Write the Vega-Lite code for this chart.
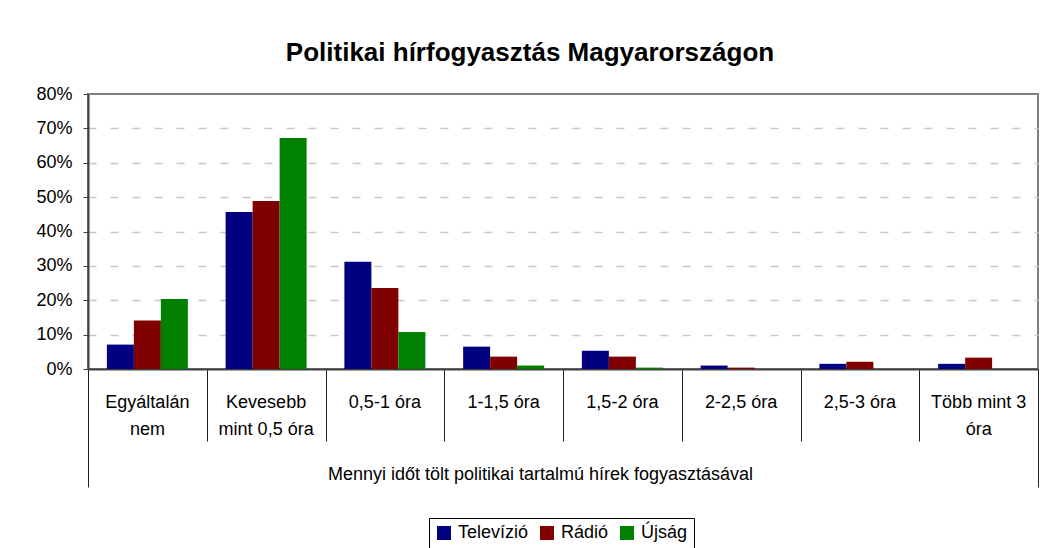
{
  "$schema": "https://vega.github.io/schema/vega-lite/v6.json",
  "width": 950,
  "height": 275,
  "autosize": "none",
  "padding": {"left": 88, "top": 94, "right": 11, "bottom": 179},
  "background": "white",
  "title": {
    "text": "Politikai hírfogyasztás Magyarországon",
    "font": "Liberation Sans",
    "fontSize": 26,
    "fontWeight": "bold",
    "color": "black",
    "anchor": "middle",
    "frame": "group",
    "baseline": "alphabetic",
    "offset": 35,
    "dx": -33,
    "dy": 37
  },
  "data": {
    "values": [
      {"cat": "Egyáltalán nem", "medium": "Televízió", "value": 0.071},
      {"cat": "Egyáltalán nem", "medium": "Rádió", "value": 0.141},
      {"cat": "Egyáltalán nem", "medium": "Újság", "value": 0.204},
      {"cat": "Kevesebb mint 0,5 óra", "medium": "Televízió", "value": 0.457},
      {"cat": "Kevesebb mint 0,5 óra", "medium": "Rádió", "value": 0.489},
      {"cat": "Kevesebb mint 0,5 óra", "medium": "Újság", "value": 0.672},
      {"cat": "0,5-1 óra", "medium": "Televízió", "value": 0.312},
      {"cat": "0,5-1 óra", "medium": "Rádió", "value": 0.236},
      {"cat": "0,5-1 óra", "medium": "Újság", "value": 0.108},
      {"cat": "1-1,5 óra", "medium": "Televízió", "value": 0.065},
      {"cat": "1-1,5 óra", "medium": "Rádió", "value": 0.036},
      {"cat": "1-1,5 óra", "medium": "Újság", "value": 0.010},
      {"cat": "1,5-2 óra", "medium": "Televízió", "value": 0.053},
      {"cat": "1,5-2 óra", "medium": "Rádió", "value": 0.036},
      {"cat": "1,5-2 óra", "medium": "Újság", "value": 0.004},
      {"cat": "2-2,5 óra", "medium": "Televízió", "value": 0.010},
      {"cat": "2-2,5 óra", "medium": "Rádió", "value": 0.004},
      {"cat": "2-2,5 óra", "medium": "Újság", "value": 0.0},
      {"cat": "2,5-3 óra", "medium": "Televízió", "value": 0.015},
      {"cat": "2,5-3 óra", "medium": "Rádió", "value": 0.021},
      {"cat": "2,5-3 óra", "medium": "Újság", "value": 0.0},
      {"cat": "Több mint 3 óra", "medium": "Televízió", "value": 0.015},
      {"cat": "Több mint 3 óra", "medium": "Rádió", "value": 0.033},
      {"cat": "Több mint 3 óra", "medium": "Újság", "value": 0.0}
    ]
  },
  "layer": [
    {
      "mark": {"type": "bar", "opacity": 0},
      "encoding": {
        "x": {
          "field": "cat",
          "type": "nominal",
          "sort": null,
          "axis": {
            "orient": "bottom",
            "title": null,
            "labels": false,
            "domain": false,
            "grid": false,
            "tickBand": "extent",
            "tickSize": {"condition": {"test": "datum.value === 'Több mint 3 óra' || datum.extra || !isValid(datum.value)", "value": 118}, "value": 72},
            "tickColor": "#202020",
            "tickWidth": 1
          }
        }
      }
    },
    {
      "mark": {"type": "bar"},
      "encoding": {
        "x": {
          "field": "cat",
          "type": "nominal",
          "sort": null,
          "scale": {"paddingInner": 0, "paddingOuter": 0},
          "axis": {
            "orient": "bottom",
            "title": "Mennyi időt tölt politikai tartalmú hírek fogyasztásával",
            "titleFont": "Liberation Sans",
            "titleFontSize": 18,
            "titleFontWeight": "normal",
            "titleColor": "black",
            "titleX": 452,
            "titleY": 110,
            "titleAlign": "center",
            "titleBaseline": "alphabetic",
            "labelAngle": 0,
            "labelFont": "Liberation Sans",
            "labelFontSize": 18,
            "labelColor": "black",
            "labelBaseline": "alphabetic",
            "labelLineHeight": 27,
            "labelPadding": 38,
            "labelExpr": "datum.value == 'Egyáltalán nem' ? ['Egyáltalán', 'nem'] : datum.value == 'Kevesebb mint 0,5 óra' ? ['Kevesebb', 'mint 0,5 óra'] : datum.value == 'Több mint 3 óra' ? ['Több mint 3', 'óra'] : datum.label",
            "ticks": false,
            "domainColor": "#404040",
            "domainWidth": 2,
            "grid": false
          }
        },
        "xOffset": {
          "field": "medium",
          "type": "nominal",
          "scale": {"domain": ["Televízió", "Rádió", "Újság"], "paddingInner": 0, "paddingOuter": 0.7}
        },
        "y": {
          "field": "value",
          "type": "quantitative",
          "scale": {"domain": [0, 0.8], "nice": false},
          "axis": {
            "title": null,
            "format": ".0%",
            "values": [0, 0.1, 0.2, 0.3, 0.4, 0.5, 0.6, 0.7, 0.8],
            "labelFont": "Liberation Sans",
            "labelFontSize": 18,
            "labelColor": "black",
            "labelPadding": 11,
            "tickSize": 5,
            "tickColor": "#404040",
            "domainColor": "#404040",
            "domainWidth": 2,
            "grid": true,
            "gridColor": "#c8c8c8",
            "gridDash": [8, 14],
            "gridWidth": 1.5,
            "gridOpacity": {"condition": {"test": "datum.value === 0 || datum.value === 0.8", "value": 0}, "value": 1}
          }
        },
        "color": {
          "field": "medium",
          "type": "nominal",
          "scale": {"domain": ["Televízió", "Rádió", "Újság"], "range": ["#000080", "#800000", "#008000"]},
          "legend": {
            "title": null,
            "orient": "none",
            "direction": "horizontal",
            "legendX": 341,
            "legendY": 424,
            "symbolType": "square",
            "symbolSize": 196,
            "symbolStrokeWidth": 0,
            "symbolOpacity": 1,
            "labelFont": "Liberation Sans",
            "labelFontSize": 18,
            "labelColor": "black",
            "labelOffset": 5,
            "columnPadding": 9,
            "padding": 6,
            "strokeColor": "black",
            "fillColor": "white"
          }
        }
      }
    }
  ],
  "resolve": {"axis": {"x": "independent"}},
  "config": {
    "view": {"stroke": "#808080", "strokeWidth": 2}
  }
}
